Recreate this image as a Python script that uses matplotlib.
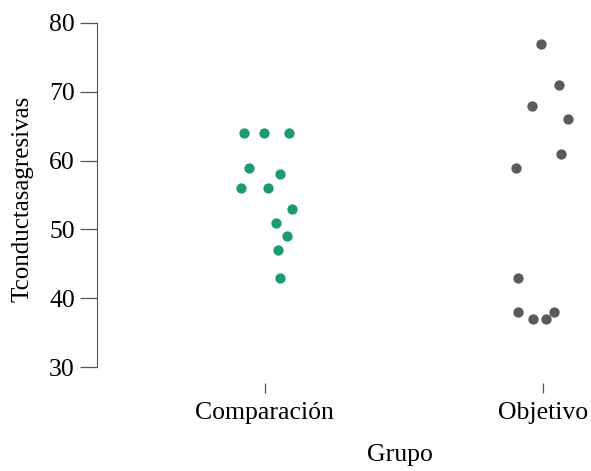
import matplotlib
matplotlib.use("Agg")
from matplotlib import pyplot as plt

plt.rcParams['font.family'] = ['Liberation Serif', 'DejaVu Serif']

groups = ["Comparación", "Objetivo"]
comp_values = [64, 64, 64, 59, 58, 56, 56, 53, 51, 49, 47, 43]
comp_jitter = [-0.076, -0.004, 0.087, -0.059, 0.056, -0.087, 0.012, 0.097, 0.040, 0.080, 0.048, 0.056]
obj_values = [77, 71, 68, 66, 61, 59, 43, 38, 37, 37, 38]
obj_jitter = [-0.007, 0.058, -0.041, 0.089, 0.065, -0.097, -0.089, -0.091, -0.036, 0.011, 0.040]
yticks = [30, 40, 50, 60, 70, 80]

fig = plt.figure(figsize=(5.91, 4.71), dpi=100)
ax = fig.add_axes([97 / 591, (471 - 383) / 471, 494 / 591, 368 / 471])

ax.scatter([0 + j for j in comp_jitter], comp_values, s=55, color="#1b9a74", linewidths=0, zorder=3)
ax.scatter([1 + j for j in obj_jitter], obj_values, s=55, color="#5a5a5a", linewidths=0, zorder=3)

ax.set_xlim(-0.604, 1.173)
ax.set_ylim(27.7, 81.16)
ax.set_xticks([0, 1])
ax.set_xticklabels(groups)
ax.set_yticks(yticks)

for s in ["top", "right", "bottom"]:
    ax.spines[s].set_visible(False)
ax.spines["left"].set_bounds(30, 80)
ax.spines["left"].set_color("#555555")
ax.tick_params(axis="y", length=12, width=0.9, color="#555555", labelsize=18.5, pad=4)
ax.tick_params(axis="x", length=7, width=0.9, color="#555555", labelsize=18.5, pad=7)

ax.set_ylabel("Tconductasagresivas", fontsize=18, labelpad=11)
ax.set_xlabel("Grupo", fontsize=18.5, labelpad=15)
ax.xaxis.set_label_coords(0.613, -0.165)

fig.savefig("out.png", dpi=100)
